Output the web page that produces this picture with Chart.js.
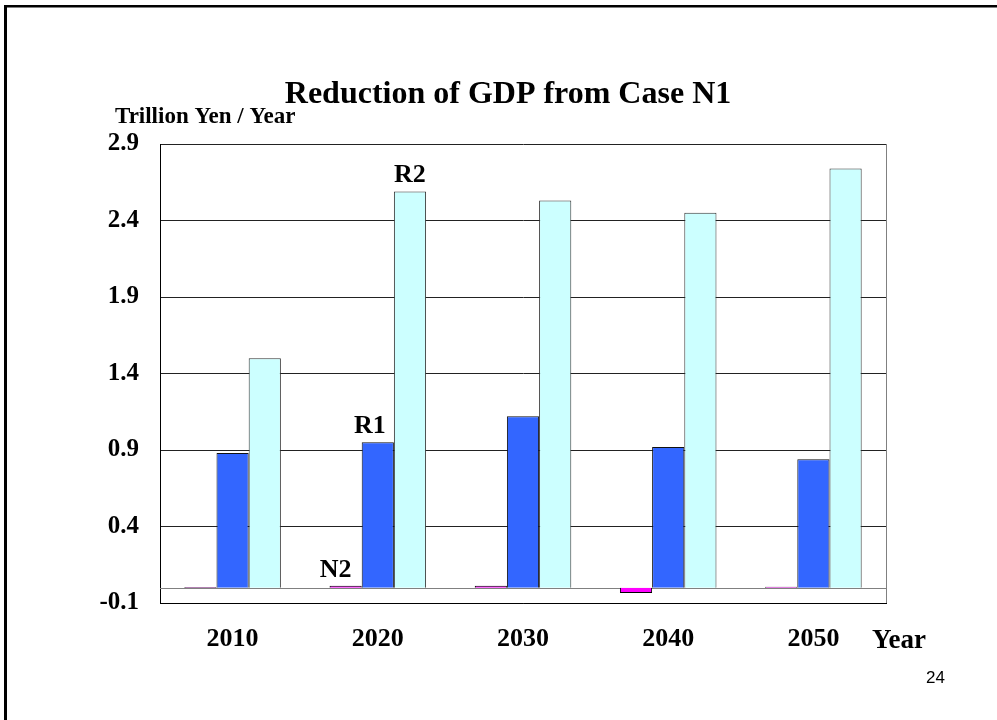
<!DOCTYPE html>
<html>
<head>
<meta charset="utf-8">
<script src="https://cdn.jsdelivr.net/npm/chart.js@4.4.1/dist/chart.umd.min.js"></script>
<style>
  html, body { margin: 0; padding: 0; background: #fff; overflow: hidden; }
  #wrap { position: relative; width: 997px; height: 720px; }
</style>
</head>
<body>
<div id="wrap"><canvas id="gdp"></canvas></div>
<script>
// Years on the horizontal axis
const years = ['2010', '2020', '2030', '2040', '2050'];
// Reduction of GDP relative to Case N1 (trillion yen per year)
const seriesN2 = [0.004, 0.012, 0.012, -0.035, 0.007];
const seriesR1 = [0.88, 0.95, 1.12, 0.92, 0.84];
const seriesR2 = [1.50, 2.59, 2.53, 2.45, 2.74];
// Vertical axis tick values
const yTicks = [-0.1, 0.4, 0.9, 1.4, 1.9, 2.4, 2.9];

const SERIF = '"Liberation Serif", "Times New Roman", serif';

const overlay = {
  id: 'overlay',
  beforeDatasetsDraw(chart) {
    // baseline at zero
    const { ctx, chartArea, scales } = chart;
    const y0 = Math.round(scales.y.getPixelForValue(0)) + 0.5;
    ctx.save();
    ctx.strokeStyle = '#808080';
    ctx.lineWidth = 1;
    ctx.beginPath();
    ctx.moveTo(chartArea.left, y0);
    ctx.lineTo(chartArea.right, y0);
    ctx.stroke();
    ctx.restore();
  },
  afterDraw(chart) {
    const { ctx, chartArea } = chart;
    ctx.save();
    // slide frame
    ctx.fillStyle = '#000';
    ctx.fillRect(4, 5, 3, 720);
    ctx.fillRect(4, 5, 1000, 2.5);

    // plot border: right edge grey
    ctx.strokeStyle = '#808080';
    ctx.lineWidth = 1;
    ctx.beginPath();
    ctx.moveTo(chartArea.right + 0.5, chartArea.top);
    ctx.lineTo(chartArea.right + 0.5, chartArea.bottom);
    ctx.stroke();

    ctx.fillStyle = '#000';
    ctx.textBaseline = 'alphabetic';

    // title
    ctx.textAlign = 'center';
    ctx.font = 'bold 32px ' + SERIF;
    ctx.fillText('Reduction of GDP from Case N1', 508, 103);

    // unit label
    ctx.textAlign = 'left';
    ctx.font = 'bold 23px ' + SERIF;
    ctx.fillText('Trillion Yen / Year', 115, 123);

    // axis name at the end of the category labels
    ctx.font = 'bold 27px ' + SERIF;
    ctx.fillText('Year', 872, 648);

    // series names above the 2020 bars
    ctx.textAlign = 'center';
    ctx.font = 'bold 26px ' + SERIF;
    const names = [['N2', -10], ['R1', -8], ['R2', 0]];
    names.forEach(([name, dx], i) => {
      const bar = chart.getDatasetMeta(i).data[1];
      const top = Math.min(bar.y, bar.base);
      ctx.fillText(name, bar.x + dx, top - 9);
    });

    // page number
    ctx.textAlign = 'left';
    ctx.font = '17px "Liberation Sans", Arial, sans-serif';
    ctx.fillText('24', 926, 683);
    ctx.restore();
  }
};

new Chart(document.getElementById('gdp'), {
  type: 'bar',
  data: {
    labels: years,
    datasets: [
      { label: 'N2', data: seriesN2, backgroundColor: '#FF00FF', borderColor: '#000', borderWidth: 1 },
      { label: 'R1', data: seriesR1, backgroundColor: '#3366FF', borderColor: '#111', borderWidth: 1 },
      { label: 'R2', data: seriesR2, backgroundColor: '#CCFFFF', borderColor: '#333', borderWidth: 1 }
    ]
  },
  options: {
    responsive: true,
    maintainAspectRatio: false,
    animation: false,
    layout: { padding: { left: 0, right: 111, top: 144, bottom: 0 } },
    datasets: { bar: { categoryPercentage: 0.665, barPercentage: 1.0 } },
    plugins: { legend: { display: false }, tooltip: { enabled: false }, title: { display: false } },
    scales: {
      x: {
        grid: { display: false, drawTicks: false },
        border: { display: true, color: '#000', width: 1 },
        ticks: {
          color: '#000',
          padding: 21,
          font: { family: SERIF, size: 26, weight: 'bold' },
          maxRotation: 0
        },
        afterFit(scale) { scale.height = 117; }
      },
      y: {
        min: -0.1,
        max: 2.9,
        afterBuildTicks(scale) { scale.ticks = yTicks.map(v => ({ value: v })); },
        grid: { color: '#222', lineWidth: 1, drawTicks: false },
        border: { display: true, color: '#000', width: 1 },
        ticks: {
          color: '#000',
          padding: 21,
          font: { family: SERIF, size: 25, weight: 'bold' },
          callback: v => v.toFixed(1)
        },
        afterFit(scale) { scale.width = 160; }
      }
    }
  },
  plugins: [overlay]
});
</script>
</body>
</html>
